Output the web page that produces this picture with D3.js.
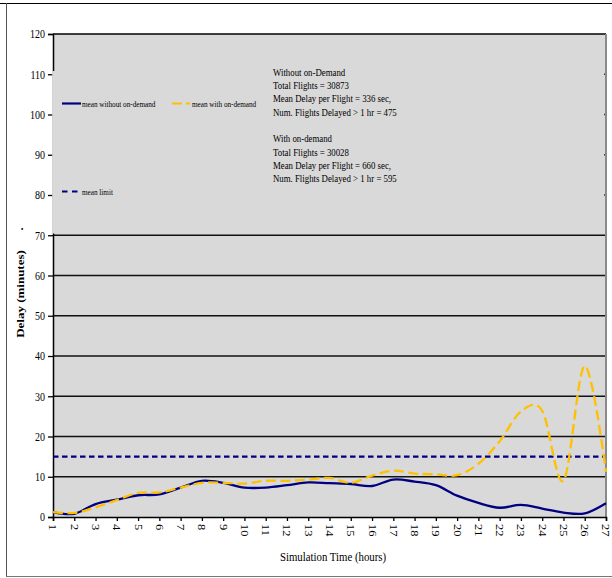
<!DOCTYPE html>
<html>
<head>
<meta charset="utf-8">
<script src="https://cdn.jsdelivr.net/npm/d3@7"></script>
<style>
  html, body { margin: 0; padding: 0; background: #ffffff; }
  svg { display: block; }
  text { font-family: "Liberation Serif", "Times New Roman", serif; fill: #000; }
</style>
</head>
<body>
<svg id="chart" width="612" height="578"></svg>
<script>
// Simulation hours (x categories)
const hours = [1, 2, 3, 4, 5, 6, 7, 8, 9, 10, 11, 12, 13, 14, 15, 16, 17, 18, 19, 20, 21, 22, 23, 24, 25, 26, 27];
// Mean delay (minutes) per hour, without on-demand flights
const meanWithout = [1.2, 0.8, 3.2, 4.3, 5.4, 5.6, 7.3, 9.0, 8.5, 7.3, 7.3, 7.9, 8.6, 8.4, 8.2, 7.7, 9.3, 8.8, 7.9, 5.3, 3.5, 2.3, 3.0, 2.1, 1.1, 0.9, 3.4];
// Mean delay (minutes) per hour, with on-demand flights
const meanWith = [1.2, 1.0, 2.4, 4.2, 6.0, 6.1, 7.3, 8.5, 8.5, 8.3, 9.0, 9.0, 9.3, 9.7, 8.5, 10.3, 11.5, 10.8, 10.6, 10.4, 13.2, 18.8, 26.2, 26.4, 9.0, 37.5, 11.2];
// Mean delay limit (minutes)
const meanLimit = 15;
// Y axis ticks
const yTicks = [0, 10, 20, 30, 40, 50, 60, 70, 80, 90, 100, 110, 120];
// Series legend labels
const seriesNames = ["mean without on-demand", "mean with on-demand", "mean limit"];
// Summary statistics text
const statsWithout = ["Without on-Demand", "Total Flights = 30873", "Mean Delay per Flight = 336 sec,", "Num. Flights Delayed > 1 hr = 475"];
const statsWith = ["With on-demand", "Total Flights = 30028", "Mean Delay per Flight = 660 sec,", "Num. Flights Delayed > 1 hr = 595"];

const svg = d3.select("#chart");
const SX = 0.8; // horizontal squeeze of the serif lettering

const plot = { left: 53, right: 606, top: 34, bottom: 517 };
const x = d3.scaleLinear().domain([1, 27]).range([plot.left, plot.right]);
const y = d3.scaleLinear().domain([0, 120]).range([plot.bottom, plot.top]);

function label(g, px, py, str, opts = {}) {
  const rot = opts.rotate || 0;
  return g.append("text")
    .attr("transform", `translate(${px},${py}) scale(${SX},1) rotate(${rot})`)
    .attr("font-size", opts.size || 12)
    .attr("font-weight", opts.weight || "normal")
    .attr("text-anchor", opts.anchor || "start")
    .attr("dominant-baseline", opts.baseline || "auto")
    .text(str);
}

// Outer frame
svg.append("line").attr("x1", 0).attr("x2", 612).attr("y1", 3.5).attr("y2", 3.5)
  .attr("stroke", "#000").attr("stroke-width", 1.2);
svg.append("line").attr("x1", 6.5).attr("x2", 6.5).attr("y1", 3).attr("y2", 577)
  .attr("stroke", "#555").attr("stroke-width", 1);
svg.append("line").attr("x1", 6).attr("x2", 612).attr("y1", 576.5).attr("y2", 576.5)
  .attr("stroke", "#777").attr("stroke-width", 1.2);

// Plot background
svg.append("rect")
  .attr("x", plot.left).attr("y", plot.top)
  .attr("width", plot.right - plot.left).attr("height", plot.bottom - plot.top)
  .attr("fill", "#d9d9d9");

// Horizontal gridlines
svg.append("g").selectAll("line")
  .data(yTicks.filter(v => v > 0 && v < 120))
  .join("line")
  .attr("x1", plot.left).attr("x2", plot.right)
  .attr("y1", d => y(d)).attr("y2", d => y(d))
  .attr("stroke", "#111").attr("stroke-width", 1.5);

// Top border and right border
svg.append("line").attr("x1", plot.left).attr("x2", plot.right)
  .attr("y1", y(120)).attr("y2", y(120)).attr("stroke", "#000").attr("stroke-width", 1.6);
svg.append("line").attr("x1", plot.right).attr("x2", plot.right)
  .attr("y1", plot.top).attr("y2", plot.bottom).attr("stroke", "#8a8a8a").attr("stroke-width", 2);

// Y axis
const yAxis = svg.append("g").attr("transform", `translate(${plot.left},0)`)
  .call(d3.axisLeft(y).tickValues(yTicks).tickSize(5).tickFormat(() => ""));
yAxis.select(".domain").attr("stroke", "#000").attr("stroke-width", 1.5);
yAxis.selectAll(".tick line").attr("stroke", "#000").attr("stroke-width", 1.3);
yTicks.forEach(v => label(svg, 45, y(v), String(v), { anchor: "end", baseline: "central", size: 12.5 }));

// X axis
const xAxis = svg.append("g").attr("transform", `translate(0,${plot.bottom})`)
  .call(d3.axisBottom(x).tickValues(hours).tickSize(4).tickFormat(() => ""));
xAxis.select(".domain").attr("stroke", "#000").attr("stroke-width", 1.5);
xAxis.selectAll(".tick line").attr("stroke", "#000").attr("stroke-width", 1.3);
hours.forEach(h => label(svg, x(h), plot.bottom + 7, String(h), { rotate: 90, baseline: "central", size: 12.5 }));

// Axis titles
label(svg, 333, 561, "Simulation Time (hours)", { anchor: "middle", size: 13.5 });
label(svg, 24, 294, "Delay (minutes)", { anchor: "middle", rotate: -90, size: 13, weight: "bold" });
label(svg, 23, 229, ".", { anchor: "middle", rotate: -90, size: 13, weight: "bold" });

// Legend / statistics panel (covers the upper grid)
const legend = svg.append("g");
legend.append("rect")
  .attr("x", plot.left - 0.8).attr("y", 71)
  .attr("width", plot.right - plot.left - 1).attr("height", 162.5)
  .attr("fill", "#d9d9d9");

const lineGen = d3.line()
  .x((d, i) => x(hours[i]))
  .y(d => y(d))
  .curve(d3.curveCatmullRom.alpha(0));

// Mean limit
svg.append("line")
  .attr("x1", plot.left).attr("x2", plot.right - 1)
  .attr("y1", y(meanLimit)).attr("y2", y(meanLimit))
  .attr("stroke", "#000080").attr("stroke-width", 2.2).attr("stroke-dasharray", "5.5,3.5");

// Series
svg.append("path").datum(meanWithout)
  .attr("d", lineGen).attr("fill", "none")
  .attr("stroke", "#000080").attr("stroke-width", 2.3);
svg.append("path").datum(meanWith)
  .attr("d", lineGen).attr("fill", "none")
  .attr("stroke", "#ffc000").attr("stroke-width", 2.3).attr("stroke-dasharray", "10,4.5");

// Legend entries
legend.append("line").attr("x1", 62).attr("x2", 81).attr("y1", 103.5).attr("y2", 103.5)
  .attr("stroke", "#000080").attr("stroke-width", 2.2);
label(legend, 82, 104, seriesNames[0], { baseline: "central", size: 9 });
legend.append("line").attr("x1", 172).attr("x2", 190).attr("y1", 103.5).attr("y2", 103.5)
  .attr("stroke", "#ffc000").attr("stroke-width", 2.2).attr("stroke-dasharray", "10,4");
label(legend, 192, 104, seriesNames[1], { baseline: "central", size: 9 });
legend.append("line").attr("x1", 62).attr("x2", 79).attr("y1", 191.5).attr("y2", 191.5)
  .attr("stroke", "#000080").attr("stroke-width", 2.2).attr("stroke-dasharray", "5.5,4.5");
label(legend, 82, 192, seriesNames[2], { baseline: "central", size: 9 });

// Statistics text
statsWithout.forEach((s, i) => label(legend, 273, 72 + i * 13.3, s, { baseline: "central", size: 11 }));
statsWith.forEach((s, i) => label(legend, 273, 138.5 + i * 13.3, s, { baseline: "central", size: 11 }));
</script>
</body>
</html>
